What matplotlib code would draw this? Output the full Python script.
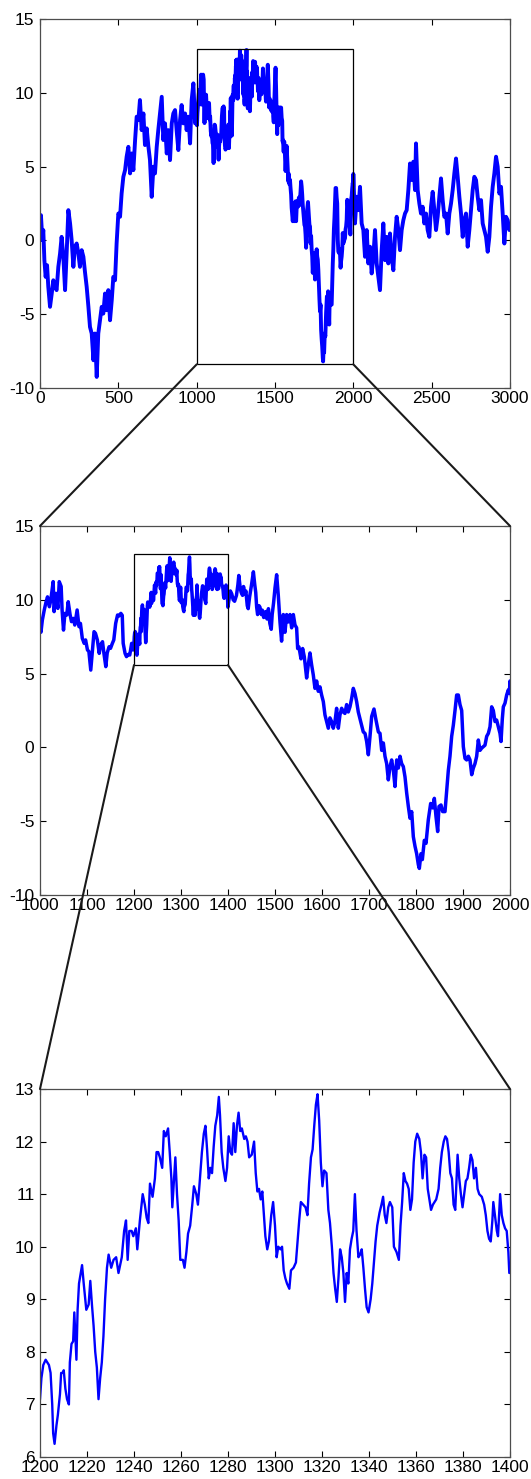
import numpy as np
import matplotlib
matplotlib.use("Agg")
import matplotlib.pyplot as plt
from matplotlib.patches import Rectangle, ConnectionPatch

# ---------------- data ----------------
# segment 0..1000
seg_a_x = [0, 6, 15, 21, 28, 36, 45, 53, 64, 75, 85, 96, 106, 117, 128, 138, 149, 160, 170, 181,
           192, 202, 213, 223, 234, 245, 255, 266, 277, 287, 298, 309, 319, 330, 341, 351, 362, 372, 383, 394,
           404, 415, 426, 436, 447, 458, 468, 479, 489, 500, 511, 521, 532, 543, 553, 564, 575, 585, 596, 607,
           617, 628, 638, 649, 660, 670, 681, 692, 702, 713, 724, 734, 745, 755, 766, 777, 787, 798, 809, 819,
           830, 841, 851, 862, 872, 883, 894, 904, 915, 926, 936, 947, 958, 968, 979, 990]
seg_a_y = [1.2, 1.71, 0.02, 0.7, -1.34, -2.47, -1.68, -3.15, -4.5, -3.6, -2.7, -3.15, -3.37, -1.79, -0.89, 0.24, -1.11, -3.37, -0.89, 2.05,
           1.15, 0.02, -1.79, -0.44, -0.21, -0.89, -1.79, -0.66, -1.11, -2.13, -3.15, -4.5, -5.86, -6.31, -8.12, -6.31, -9.25, -6.31, -5.41, -4.5,
           -4.96, -3.6, -4.73, -3.37, -5.41, -4.05, -2.47, -2.7, -0.21, 1.82, 1.6, 3.18, 4.31, 4.76, 5.67, 6.34, 4.54, 5.89, 4.76, 6.8,
           8.38, 8.15, 9.51, 7.47, 8.6, 6.46, 7.59, 6.34, 5.44, 2.95, 4.99, 4.54, 6.34, 7.47, 8.6, 9.73, 6.8, 7.93, 5.89, 7.47,
           5.44, 7.93, 8.6, 8.83, 7.47, 6.12, 8.15, 9.17, 7.93, 8.6, 7.47, 8.38, 6.57, 9.51, 10.64, 7.93]

# segment 1000..1200
seg_b_x = [1000, 1002, 1005, 1009, 1013, 1016, 1020, 1023, 1028, 1030, 1034, 1038, 1041, 1045, 1047, 1050, 1053, 1057, 1060, 1064,
           1067, 1071, 1074, 1079, 1083, 1086, 1090, 1094, 1097, 1101, 1104, 1108, 1111, 1115, 1118, 1122, 1126, 1129, 1133, 1136,
           1140, 1143, 1147, 1150, 1154, 1157, 1161, 1165, 1168, 1172, 1175, 1177, 1181, 1184, 1188, 1191, 1195, 1198]
seg_b_y = [8.5, 7.8, 8.63, 9.3, 9.87, 10.2, 9.53, 9.99, 11.23, 9.2, 10.44, 9.42, 11.23, 10.9, 9.31, 7.95, 9.08, 8.97, 9.87, 9.0,
           8.52, 8.74, 8.29, 9.31, 8.18, 8.4, 7.39, 7.05, 7.28, 6.6, 6.5, 5.24, 6.37, 7.84, 7.73, 7.28, 6.37, 6.94, 7.16, 6.37,
           5.47, 6.4, 6.82, 6.71, 7.05, 7.28, 8.4, 8.97, 8.9, 9.08, 8.95, 7.05, 6.37, 6.15, 6.3, 6.26, 7.05, 6.6]

# segment 1200..1400
seg_c_x = [1200.0, 1200.6, 1201.4, 1202.4, 1203.8, 1204.5, 1205.2, 1205.6, 1206.2, 1207.0, 1207.6, 1208.5, 1209.0, 1209.9, 1210.1,
           1210.8, 1211.5, 1212.3, 1212.7, 1213.4, 1214.1, 1214.6, 1215.5, 1216.0, 1216.6, 1217.9, 1218.6, 1219.7, 1220.7, 1221.4,
           1222.1, 1222.8, 1223.5, 1224.2, 1224.9, 1225.6, 1226.3, 1227.0, 1227.7, 1228.5, 1229.2, 1230.3, 1231.3, 1232.4, 1233.4,
           1234.8, 1235.8, 1236.6, 1237.3, 1238.0, 1239.0, 1239.7, 1240.8, 1241.4, 1242.5, 1243.7, 1244.6, 1245.4, 1246.1, 1246.8,
           1247.9, 1248.9, 1249.6, 1250.3, 1251.0, 1252.0, 1252.7, 1253.5, 1254.5, 1255.2, 1255.9, 1256.3, 1256.9, 1257.6, 1258.3,
           1259.0, 1259.7, 1260.8, 1261.5, 1262.3, 1263.0, 1263.9, 1264.8, 1265.5, 1266.5, 1267.2, 1267.9, 1268.9, 1269.7, 1270.4,
           1271.1, 1271.8, 1272.5, 1273.2, 1273.9, 1274.6, 1275.4, 1276.1, 1276.6, 1277.3, 1278.0, 1278.9, 1279.6, 1280.3, 1281.0,
           1281.7, 1282.4, 1283.1, 1283.8, 1284.5, 1285.2, 1285.9, 1286.9, 1287.6, 1288.3, 1289.0, 1290.1, 1291.1, 1291.8, 1292.5,
           1293.2, 1293.9, 1294.6, 1295.3, 1295.9, 1296.7, 1297.4, 1298.4, 1299.2, 1300.0, 1300.7, 1301.4, 1302.3, 1303.0, 1303.7,
           1304.4, 1305.1, 1306.1, 1306.8, 1307.9, 1308.9, 1309.6, 1310.3, 1311.0, 1312.0, 1313.0, 1313.8, 1314.5, 1315.3, 1316.0,
           1316.7, 1317.4, 1318.1, 1318.8, 1319.5, 1320.2, 1320.9, 1321.9, 1322.7, 1323.4, 1324.2, 1324.9, 1325.6, 1326.3, 1327.0,
           1327.7, 1328.4, 1329.1, 1329.8, 1330.5, 1331.2, 1331.9, 1332.6, 1333.3, 1334.0, 1334.7, 1335.5, 1336.2, 1336.9, 1337.6,
           1338.3, 1339.0, 1339.8, 1340.7, 1341.4, 1342.1, 1342.8, 1343.5, 1344.5, 1345.3, 1346.0, 1346.7, 1347.4, 1348.2, 1348.9,
           1349.9, 1350.6, 1351.7, 1352.7, 1353.4, 1354.1, 1354.8, 1355.5, 1356.2, 1356.9, 1357.6, 1358.3, 1359.0, 1359.7, 1360.5,
           1361.4, 1362.1, 1362.8, 1363.6, 1364.3, 1365.0, 1365.7, 1366.4, 1367.2, 1367.9, 1368.6, 1369.6, 1370.3, 1371.0, 1371.8,
           1372.5, 1373.2, 1373.9, 1374.6, 1375.3, 1376.0, 1376.7, 1377.7, 1378.4, 1379.1, 1379.8, 1380.5, 1381.2, 1381.9, 1382.6,
           1383.3, 1384.0, 1384.7, 1385.5, 1386.2, 1386.9, 1388.0, 1389.0, 1389.7, 1390.4, 1391.1, 1391.8, 1392.5, 1392.9, 1393.6,
           1394.4, 1394.9, 1395.8, 1396.5, 1397.2, 1397.9, 1398.6, 1399.3, 1399.7]
seg_c_y = [7.1, 7.5, 7.75, 7.85, 7.75, 7.6, 7.0, 6.45, 6.25, 6.6, 6.8, 7.2, 7.6, 7.6, 7.65,
           7.3, 7.1, 7.0, 7.8, 8.15, 8.2, 8.75, 7.85, 8.8, 9.3, 9.65, 9.3, 8.8, 8.9, 9.35,
           8.9, 8.5, 8.0, 7.7, 7.1, 7.5, 7.8, 8.3, 9.0, 9.6, 9.85, 9.6, 9.75, 9.8, 9.5,
           9.8, 10.3, 10.5, 9.75, 10.3, 10.3, 10.2, 10.35, 9.95, 10.5, 11.0, 10.8, 10.55, 10.45, 11.2,
           10.95, 11.3, 11.8, 11.8, 11.7, 11.5, 12.2, 12.1, 12.25, 11.8, 11.3, 10.75, 11.2, 11.7, 11.0,
           10.5, 9.75, 9.75, 9.6, 9.9, 10.25, 10.4, 10.8, 11.15, 11.0, 10.8, 11.2, 11.8, 12.15, 12.3,
           11.85, 11.3, 11.5, 11.4, 11.9, 12.3, 12.5, 12.85, 12.5, 11.8, 11.5, 11.25, 11.5, 12.1, 11.8,
           11.75, 12.35, 11.8, 12.3, 12.55, 12.2, 12.25, 12.05, 12.1, 12.0, 11.7, 11.75, 12.0, 11.4, 11.05,
           11.1, 10.9, 11.05, 10.6, 10.2, 9.95, 10.1, 10.6, 10.85, 10.4, 9.8, 10.0, 9.95, 10.0, 9.55,
           9.4, 9.3, 9.2, 9.55, 9.6, 9.7, 10.1, 10.5, 10.85, 10.8, 10.75, 10.6, 11.2, 11.7, 11.85,
           12.3, 12.7, 12.9, 12.4, 11.6, 11.15, 11.45, 11.4, 10.7, 10.45, 10.0, 9.5, 9.2, 8.95, 9.4,
           9.95, 9.8, 9.5, 8.95, 9.5, 9.3, 9.95, 10.15, 10.3, 11.0, 10.3, 9.8, 9.85, 9.95, 9.6,
           9.2, 8.85, 8.75, 9.0, 9.3, 9.7, 10.1, 10.4, 10.65, 10.8, 10.95, 10.6, 10.45, 10.75, 10.85,
           10.75, 10.0, 9.9, 9.75, 10.4, 10.85, 11.4, 11.25, 11.2, 11.1, 10.7, 10.9, 11.6, 12.0, 12.15,
           12.05, 11.8, 11.3, 11.75, 11.7, 11.1, 10.9, 10.7, 10.8, 10.85, 10.9, 11.1, 11.5, 11.8, 12.0,
           12.1, 12.05, 11.8, 11.4, 11.3, 10.8, 10.7, 11.75, 11.3, 11.0, 10.75, 11.0, 11.25, 11.3, 11.5,
           11.75, 11.65, 11.3, 11.5, 11.1, 11.0, 10.95, 10.8, 10.6, 10.3, 10.15, 10.1, 10.5, 10.85, 10.6,
           10.3, 10.2, 11.0, 10.6, 10.45, 10.35, 10.3, 9.9, 9.5]

# segment 1400..2000
seg_d_x = [1402, 1405, 1408, 1411, 1414, 1418, 1421, 1423, 1426, 1428, 1431, 1433, 1436, 1438, 1441, 1443, 1446, 1450, 1454, 1457,
           1459, 1461, 1463, 1466, 1468, 1471, 1473, 1476, 1480, 1483, 1486, 1489, 1492, 1494, 1497, 1500, 1503.5, 1507, 1510.6, 1514,
           1517.7, 1521.2, 1524.8, 1528.3, 1531.9, 1535.4, 1539, 1542.5, 1546, 1548.2, 1551, 1555.3, 1558.8, 1562.3, 1567.3, 1570.8,
           1574.4, 1577.9, 1581.5, 1585, 1588.6, 1592.1, 1595.7, 1599.2, 1602.8, 1606.3, 1609.8, 1613.4, 1616.9, 1620.5, 1624, 1627.6,
           1631.1, 1634.7, 1638.2, 1641.8, 1645.3, 1648.8, 1652.4, 1655.9, 1659.5, 1663, 1666.6, 1670.1, 1673.7, 1677.2, 1680.8, 1684.3,
           1687.8, 1691.5, 1695, 1698.6, 1702, 1705.7, 1710.6, 1714.9, 1719.9, 1723.4, 1727, 1730.5, 1734, 1737.6, 1741.1, 1744.7,
           1748.2, 1751.8, 1755.3, 1758.9, 1762.4, 1766, 1769.5, 1773, 1776.6, 1780.2, 1783.7, 1787.2, 1790.8, 1794.3, 1797.9, 1801.4,
           1805, 1807.1, 1810.6, 1813.5, 1817.7, 1821.3, 1826.2, 1831.2, 1835.5, 1839, 1842.6, 1846.1, 1848.9, 1853.2, 1856.7, 1861.7,
           1865.3, 1868.8, 1872.3, 1875.9, 1879.4, 1883, 1886.5, 1890.1, 1893.6, 1897.2, 1900.7, 1904.3, 1907.8, 1911.4, 1914.9, 1918.5,
           1922, 1925.5, 1929.1, 1932.6, 1936.2, 1939.7, 1943.3, 1946.8, 1950.4, 1953.9, 1957.5, 1961, 1964.5, 1968.1, 1971.6, 1975.2,
           1978.7, 1980.9, 1983.7, 1985.8, 1989.4, 1992.9, 1996.5, 1998.6]
seg_d_y = [10.0, 10.6, 10.4, 10.0, 9.9, 10.3, 11.0, 11.65, 10.8, 10.5, 10.3, 10.9, 10.4, 10.6, 9.6, 9.4, 10.2, 11.0, 11.9, 11.0,
           10.5, 9.5, 9.0, 9.6, 9.5, 9.0, 9.3, 8.8, 9.2, 8.7, 9.4, 8.4, 8.0, 9.0, 9.8, 10.8, 11.7, 10.3, 8.5, 7.2,
           9.0, 7.8, 9.0, 8.5, 9.0, 8.1, 9.0, 8.3, 8.1, 6.7, 6.8, 6.0, 6.7, 6.15, 4.7, 5.6,
           6.4, 5.6, 4.9, 4.0, 4.5, 3.8, 4.1, 3.55, 3.1, 2.2, 1.75, 1.3, 2.0, 1.75, 1.3, 1.75,
           2.65, 1.3, 2.2, 2.65, 2.4, 2.3, 2.9, 2.4, 2.75, 3.3, 4.0, 3.65, 3.1, 2.4, 1.95, 1.5,
           1.05, 0.95, 0.4, -0.5, 0.7, 2.1, 2.6, 1.85, 1.05, 0.95, -0.2, 0.3, -0.6, -1.1, -2.2, -1.3,
           -0.85, -1.55, -2.65, -0.85, -1.4, -0.6, -1.1, -1.3, -2.0, -3.1, -4.0, -4.8, -4.35, -6.05, -6.7, -7.2,
           -7.95, -8.2, -7.2, -7.6, -6.3, -6.5, -4.9, -3.8, -4.1, -3.45, -4.7, -5.7, -4.0, -3.9, -4.35, -4.35,
           -2.9, -1.55, -0.6, 0.75, 1.5, 2.5, 3.55, 3.55, 2.9, 2.5, 0.05, -0.75, -0.85, -0.6, -0.85, -1.85,
           -1.4, -1.1, -0.6, 0.5, -0.2, -0.05, 0.05, 0.15, 0.75, 0.95, 1.4, 2.75, 2.5, 1.75, 1.85, 1.4,
           0.95, 0.4, 1.95, 2.75, 3.0, 3.55, 3.9, 3.65]

# segment 2000..3000
seg_e_x = [2000, 2010.6, 2021.3, 2031.9, 2042.6, 2053.2, 2063.8, 2074.5, 2085.1, 2095.8, 2106.4, 2117, 2127.7, 2138.3, 2149,
           2159.6, 2170.2, 2180.9, 2191.5, 2202.2, 2212.8, 2223.4, 2234, 2244.7, 2255.4, 2266, 2276.6, 2287.3, 2297.9, 2308.6,
           2319.2, 2329.8, 2340.5, 2351.1, 2361.8, 2372.4, 2383, 2393.7, 2400, 2410.7, 2421.3, 2431.9, 2442.6, 2453.2, 2463.9,
           2474.5, 2485.1, 2495.8, 2506.4, 2517.1, 2527.7, 2538.3, 2549, 2559.6, 2570.3, 2580.9, 2591.6, 2602.2, 2612.8, 2623.5,
           2634.1, 2644.7, 2655.4, 2666, 2676.7, 2687.3, 2698, 2708.6, 2719.2, 2729.9, 2740.5, 2751.1, 2761.8, 2772.4, 2783.1,
           2793.7, 2804.4, 2815, 2825.6, 2836.3, 2846.9, 2857.6, 2868.2, 2878.9, 2889.5, 2900.1, 2910.8, 2921.4, 2932.1, 2942.7,
           2953.3, 2964, 2974.6, 2985.3, 2995.9, 3000]
seg_e_y = [4.5, 1.15, 2.96, 2.05, 3.63, 1.15, 0.7, -1.11, 0.7, -1.56, -0.43, -2.24, -1.11, 0.7, -1.56,
           -2.47, -3.37, -0.66, 1.15, -1.34, 0.24, -1.56, 0.47, -1.11, -2.02, 0.24, 1.6, 0.7, -0.66, 0.7,
           1.37, 1.82, 2.05, 3.41, 5.21, 4.09, 5.33, 3.41, 6.57, 3.41, 2.5, 1.82, 2.28, 1.15, 1.82,
           0.7, 0.24, 2.28, 3.29, 2.05, 0.7, 1.6, 2.96, 4.2, 2.73, 1.6, 1.82, 0.47, 1.82, 2.5,
           3.41, 4.54, 5.55, 4.31, 2.96, 1.82, 0.24, 1.37, 1.82, -0.43, 0.7, 2.05, 3.41, 4.31, 4.09,
           2.96, 2.05, 2.73, 1.15, 0.7, 0.24, -0.77, 0.24, 2.28, 3.63, 4.54, 5.67, 4.99, 3.18, 3.63,
           1.82, -0.21, 1.6, 1.37, 0.7, 0.9]

# axis settings
top_xticks = [0, 500, 1000, 1500, 2000, 2500, 3000]
mid_xticks = [1000, 1100, 1200, 1300, 1400, 1500, 1600, 1700, 1800, 1900, 2000]
bot_xticks = [1200, 1220, 1240, 1260, 1280, 1300, 1320, 1340, 1360, 1380, 1400]
big_yticks = [-10, -5, 0, 5, 10, 15]
bot_yticks = [6, 7, 8, 9, 10, 11, 12, 13]

# zoom windows (x0, x1, y0, y1)
zoom1 = (1000, 2000, -8.4, 13.0)
zoom2 = (1200, 1400, 5.58, 13.1)

# ---------------- assemble ----------------
x_all = np.array(seg_a_x + seg_b_x + seg_c_x + seg_d_x + seg_e_x, dtype=float)
y_all = np.array(seg_a_y + seg_b_y + seg_c_y + seg_d_y + seg_e_y, dtype=float)

plt.rcParams['font.family'] = ['Liberation Sans', 'DejaVu Sans']
plt.rcParams['axes.unicode_minus'] = False

W, H = 531, 1479
fig = plt.figure(figsize=(W / 100, H / 100), dpi=100)

L, R = 40 / W, 510 / W

def add_ax(top_px, bot_px):
    return fig.add_axes([L, 1 - bot_px / H, R - L, (bot_px - top_px) / H])

ax1 = add_ax(19, 388)
ax2 = add_ax(526, 895)
ax3 = add_ax(1089, 1457)

blue = (0, 0, 1)
ax1.plot(x_all, y_all, color=blue, lw=2.8)
ax2.plot(x_all, y_all, color=blue, lw=2.5)
ax3.plot(x_all, y_all, color=blue, lw=1.7)

ax1.set_xlim(0, 3000); ax1.set_ylim(-10, 15)
ax2.set_xlim(1000, 2000); ax2.set_ylim(-10, 15)
ax3.set_xlim(1200, 1400); ax3.set_ylim(6, 13)

ax1.set_xticks(top_xticks); ax1.set_yticks(big_yticks)
ax2.set_xticks(mid_xticks); ax2.set_yticks(big_yticks)
ax3.set_xticks(bot_xticks); ax3.set_yticks(bot_yticks)

for ax in (ax1, ax2, ax3):
    ax.tick_params(direction='in', top=True, right=True, length=4, width=0.8,
                   labelsize=12.5, colors='black')
    ax.tick_params(axis='x', pad=2)
    ax.tick_params(axis='y', pad=4)
    for s in ax.spines.values():
        s.set_color('0.3')
        s.set_linewidth(0.9)

# zoom rectangles
x0, x1, y0, y1 = zoom1
ax1.add_patch(Rectangle((x0, y0), x1 - x0, y1 - y0, fill=False, ec='black', lw=0.9, zorder=3))
x0b, x1b, y0b, y1b = zoom2
ax2.add_patch(Rectangle((x0b, y0b), x1b - x0b, y1b - y0b, fill=False, ec='black', lw=0.9, zorder=3))

# connecting lines
for (xa, ya, ax_a, ax_b, xb) in [(x0, y0, ax1, ax2, 0), (x1, y0, ax1, ax2, 1),
                                 (x0b, y0b, ax2, ax3, 0), (x1b, y0b, ax2, ax3, 1)]:
    con = ConnectionPatch(xyA=(xa, ya), coordsA=ax_a.transData,
                          xyB=(xb, 1), coordsB=ax_b.transAxes,
                          color='0.1', lw=1.5)
    fig.add_artist(con)

fig.savefig('out.png', dpi=100)
